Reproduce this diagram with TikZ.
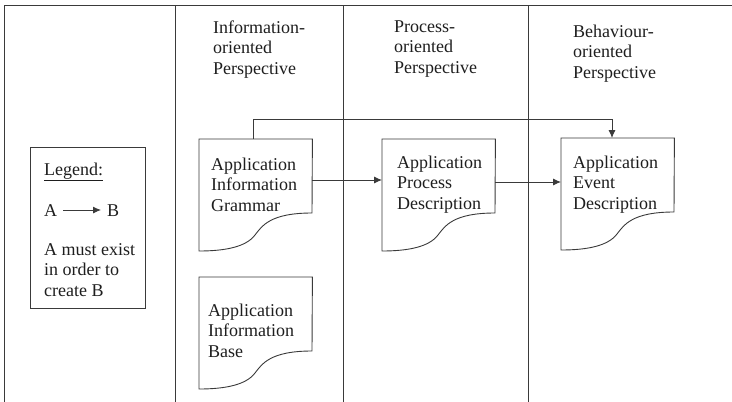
\documentclass[tikz,border=0pt]{standalone}
\usepackage{fontspec}
\setmainfont{Liberation Serif}
\usetikzlibrary{arrows.meta,calc}

\definecolor{inkline}{HTML}{3A3A3A}
\definecolor{inktext}{HTML}{1E1E1E}

\tikzset{
  frame/.style={draw=inkline, line width=0.9pt},
  docbox/.style={draw=none, minimum width=113pt, minimum height=112pt, inner sep=0pt},
  docline/.style={draw=inkline, line width=0.9pt, line join=miter},
  label/.style={font=\fontsize{18}{20.3}\selectfont, text=inktext, align=left, inner sep=0pt, anchor=base west},
  conn/.style={draw=inkline, line width=0.9pt, -{Latex[length=8pt,width=7pt]}},
}

% document symbol: flat top, straight sides, wavy bottom
\newcommand{\docoutline}[1]{%
  \draw[docline] (#1.north west) -- (#1.north east)
    -- ($(#1.north west)+(113,74)$)
    .. controls ($(#1.north west)+(71,74)$) and ($(#1.north west)+(63,87)$) .. ($(#1.north west)+(56,96)$)
    .. controls ($(#1.north west)+(47,108)$) and ($(#1.north west)+(26,112)$) .. ($(#1.north west)+(0,112)$)
    -- cycle;}

\begin{document}
\begin{tikzpicture}[x=1pt, y=-1pt]
  \useasboundingbox (0,0) rectangle (732,402);

  % outer frame and column separators
  \draw[frame] (4,402) -- (4,5) -- (732,5);
  \draw[frame] (175,5) -- (175,402);
  \draw[frame] (343,5) -- (343,402);
  \draw[frame] (528,5) -- (528,402);

  % column headings (base anchor sits on the last line)
  \node[label] (hinfo) at (213,74) {Information-\\oriented\\Perspective};
  \node[label] (hproc) at (394,73) {Process-\\oriented\\Perspective};
  \node[label] (hbeh)  at (573,78) {Behaviour-\\oriented\\Perspective};

  % legend
  \node[draw=inkline, line width=0.9pt, minimum width=115pt, minimum height=161pt, anchor=north west] (legend) at (30,147) {};
  \node[label] (legtitle) at (44,175) {\underline{Legend:}};
  \node[label] (la) at (44,216) {A};
  \node[label] (lb) at (107,216) {B};
  \draw[draw=inkline, line width=0.9pt, -{Latex[length=8pt,width=7pt]}] ($(la.base east)+(6,-6)$) -- ($(lb.base west)+(-6,-6)$);
  \node[label] (legtext) at (44,296) {A must exist\\in order to\\create B};

  % documents
  \node[docbox, anchor=north west] (aig) at (199,139) {};
  \node[docbox, anchor=north west] (aib) at (199,277) {};
  \node[docbox, anchor=north west] (apd) at (382,139) {};
  \node[docbox, anchor=north west] (aed) at (561,138) {};
  \docoutline{aig}
  \docoutline{aib}
  \docoutline{apd}
  \docoutline{aed}

  \node[label] (aigtext) at ($(aig.north west)+(12,72)$) {Application\\Information\\Grammar};
  \node[label] (aibtext) at ($(aib.north west)+(9,80)$) {Application\\Information\\Base};
  \node[label] (apdtext) at ($(apd.north west)+(15,70)$) {Application\\Process\\Description};
  \node[label] (aedtext) at ($(aed.north west)+(12,71)$) {Application\\Event\\Description};

  % dependencies
  \draw[conn] ($(aig.north west)+(113,41)$) -- ($(apd.north west)+(0,41)$);
  \draw[conn] ($(apd.north west)+(113,43)$) -- ($(aed.north west)+(0,44)$);
  \draw[conn] ($(aig.north west)+(54,0)$) -- ++(0,-20) -| ($(aed.north west)+(51,0)$);
\end{tikzpicture}
\end{document}
